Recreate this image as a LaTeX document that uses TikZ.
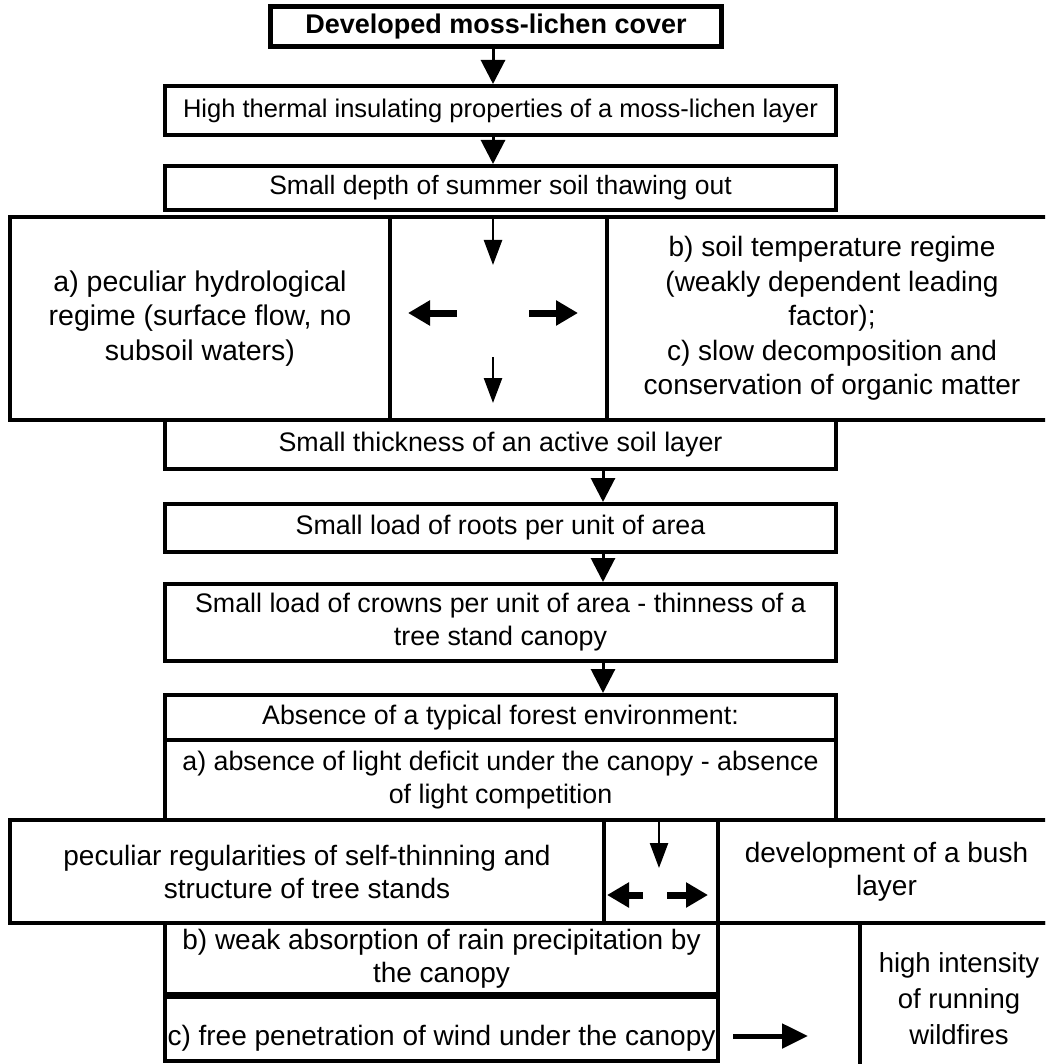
\documentclass[tikz,border=0pt]{standalone}
\usepackage{fontspec}
\setmainfont{Liberation Sans}
\usetikzlibrary{arrows.meta}
\begin{document}
\begin{tikzpicture}[x=1pt,y=-1pt,
  box/.style={draw, line width=4pt, inner sep=0pt, align=center, font=\fontsize{28}{34}\selectfont},
  colbox/.style={box, minimum width=671pt, font=\fontsize{26.8}{33}\selectfont},
  arr/.style={line width=3pt, -{Triangle[width=24pt,length=24pt]}},
  thinarr/.style={line width=2.5pt, -{Triangle[width=18pt,length=25pt]}},
  stubarr/.style={line width=7pt, -{Triangle[width=24pt,length=22pt]}},
  windarr/.style={line width=5pt, -{Triangle[width=24pt,length=26pt]}}]
\useasboundingbox (0,0) rectangle (1045,1064);
\fill[white] (0,0) rectangle (1045,1064);
\clip (0,0) rectangle (1045,1064);
% main column
\node[box, line width=5pt, minimum width=451pt, minimum height=40pt, font=\fontsize{27}{34}\selectfont\bfseries] (b1) at (496,27) {Developed moss-lichen cover};
\node[colbox, minimum height=49pt, font=\fontsize{25.5}{34}\selectfont] (b2) at (500.5,110.5) {High thermal insulating properties of a moss-lichen layer};
\node[colbox, minimum height=44pt, font=\fontsize{26.5}{34}\selectfont] (b3) at (500.5,188) {Small depth of summer soil thawing out};
% row 1
\node[box, minimum width=380pt, minimum height=203pt, font=\fontsize{28.5}{34.5}\selectfont] (r1l) at (200,318.5) {a) peculiar hydrological\\regime (surface flow, no\\subsoil waters)};
\node[box, minimum width=217pt, minimum height=203pt] (r1m) at (498.5,318.5) {};
\node[box, minimum width=450pt, minimum height=203pt, font=\fontsize{28}{34.5}\selectfont] (r1r) at (832,318.5) {b) soil temperature regime\\(weakly dependent leading\\factor);\\c) slow decomposition and\\conservation of organic matter};
% lower column
\node[colbox, minimum height=49pt] (b4) at (500.5,444.5) {Small thickness of an active soil layer};
\node[colbox, minimum height=48pt] (b5) at (500.5,528) {Small load of roots per unit of area};
\node[colbox, minimum height=77pt] (b6) at (500.5,622.5) {Small load of crowns per unit of area - thinness of a\\tree stand canopy};
\node[colbox, minimum height=45pt] (b7) at (500.5,717.5) {Absence of a typical forest environment:};
\node[colbox, minimum height=80pt] (b8) at (500.5,780) {a) absence of light deficit under the canopy - absence\\of light competition};
% row 2
\node[box, minimum width=594pt, minimum height=103pt, font=\fontsize{28}{33}\selectfont] (r2l) at (307,871.5) {peculiar regularities of self-thinning and\\structure of tree stands};
\node[box, minimum width=114pt, minimum height=103pt] (r2m) at (661,871.5) {};
\node[box, minimum width=337pt, minimum height=103pt, font=\fontsize{28}{33}\selectfont] (r2r) at (886.5,871.5) {development of a bush\\layer};
% bottom
\node[box, minimum width=553pt, minimum height=71pt, font=\fontsize{28}{33}\selectfont] (b9) at (441.5,958.5) {b) weak absorption of rain precipitation by\\the canopy};
\node[box, minimum width=553pt, minimum height=64pt, text height=38pt, text depth=6pt] (b10) at (441.5,1029) {c) free penetration of wind under the canopy};
\node[box, minimum width=198pt, minimum height=152pt, font=\fontsize{27.5}{36}\selectfont] (b11) at (959,999) {high intensity\\of running\\wildfires};
% helper coordinates
\coordinate (xa) at (493,0);
\coordinate (xb) at (603,0);
\coordinate (d1s) at (493,219);
\coordinate (d1e) at (493,265);
\coordinate (l1s) at (457,313);
\coordinate (l1e) at (408,313);
\coordinate (rr1s) at (529,313);
\coordinate (rr1e) at (578,313);
\coordinate (d2s) at (493,357);
\coordinate (d2e) at (493,403);
\coordinate (d3s) at (659,822);
\coordinate (d3e) at (659,868);
\coordinate (l2s) at (643,895);
\coordinate (l2e) at (607,895);
\coordinate (rr2s) at (667,895);
\coordinate (rr2e) at (708,895);
\coordinate (w1) at (733,1036);
\coordinate (w2) at (808,1036);
% connectors
\draw[arr] (b1.south -| xa) -- (b2.north -| xa);
\draw[arr] (b2.south -| xa) -- (b3.north -| xa);
\draw[arr] (b4.south -| xb) -- (b5.north -| xb);
\draw[arr] (b5.south -| xb) -- (b6.north -| xb);
\draw[arr] (b6.south -| xb) -- (b7.north -| xb);
\draw[thinarr] (d1s) -- (d1e);
\draw[thinarr] (d2s) -- (d2e);
\draw[stubarr] (l1s) -- (l1e);
\draw[stubarr] (rr1s) -- (rr1e);
\draw[thinarr] (d3s) -- (d3e);
\draw[stubarr] (l2s) -- (l2e);
\draw[stubarr] (rr2s) -- (rr2e);
\draw[windarr] (w1) -- (w2);
\end{tikzpicture}
\end{document}
